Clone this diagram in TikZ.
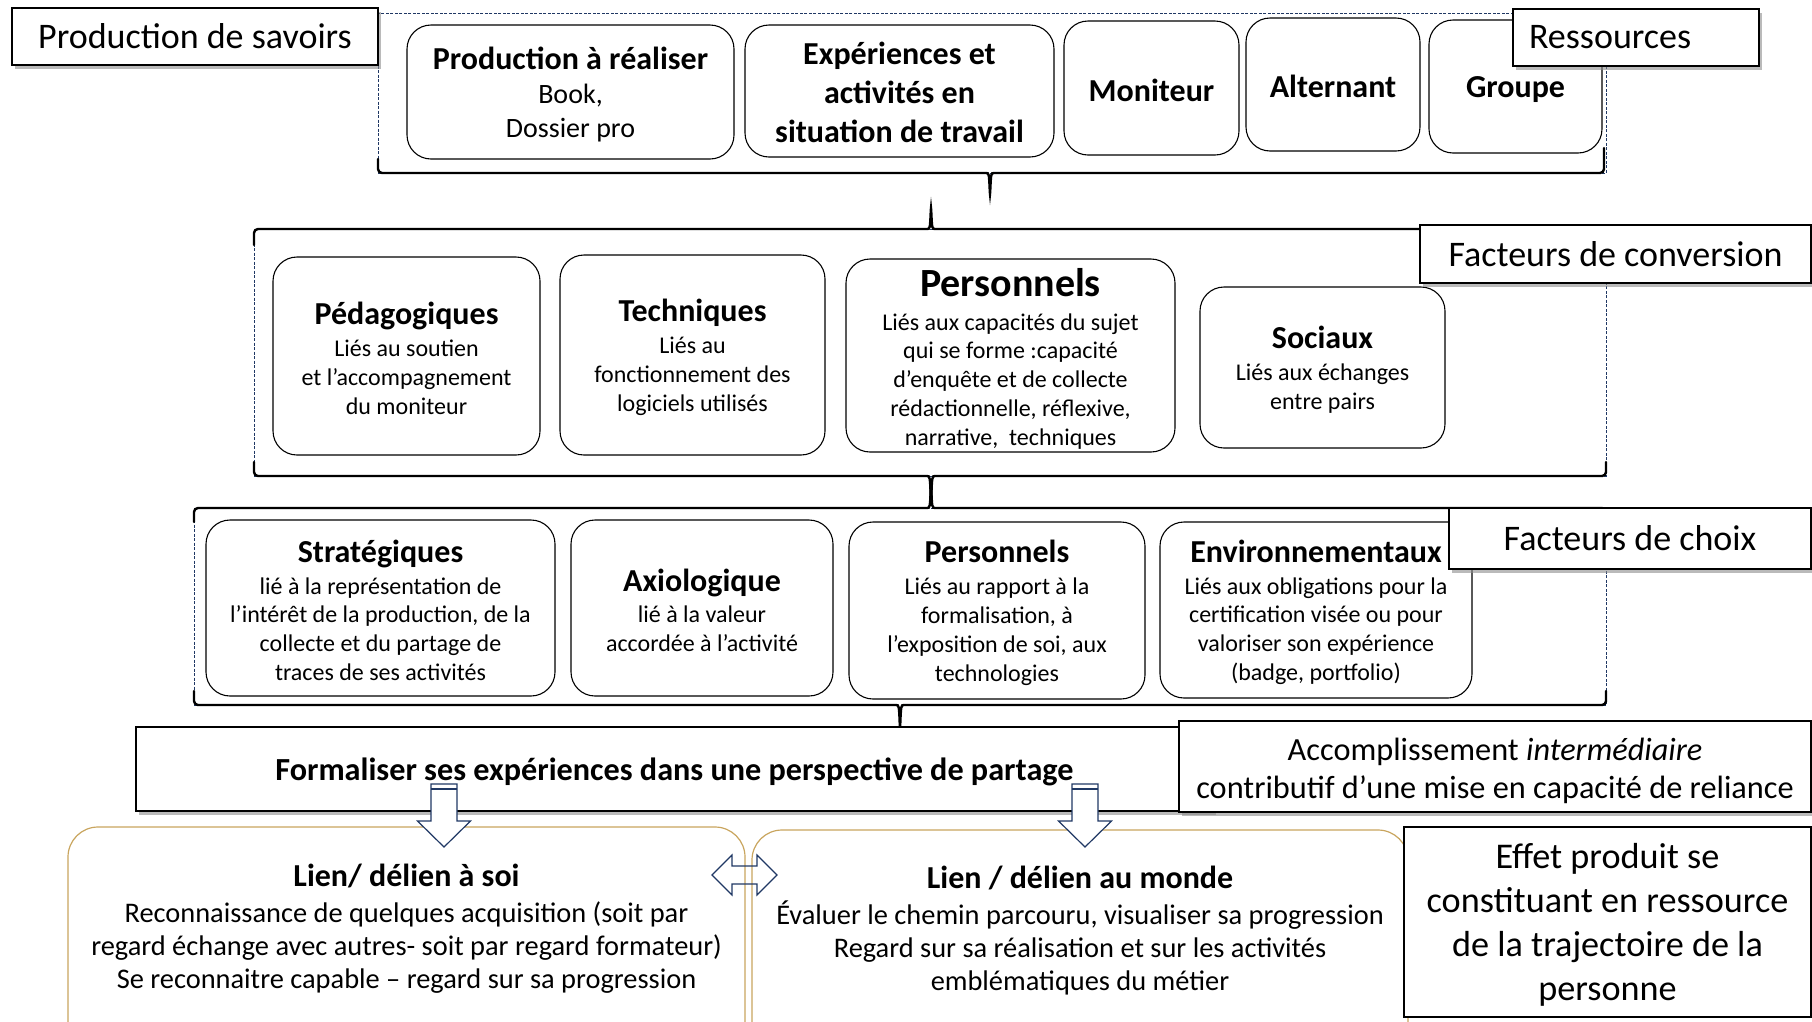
\documentclass[tikz,border=0pt]{standalone}
\usepackage{fontspec}
\setmainfont{Carlito}
\usetikzlibrary{calc,shadows}
\definecolor{navy}{HTML}{203864}
\definecolor{gold}{HTML}{C9A55E}
\newcommand{\titre}[1]{{\fontsize{32}{38}\selectfont\bfseries\rule{0pt}{27pt}#1}}

\begin{document}
\begin{tikzpicture}[x=1pt,y=-1pt,
rbox/.style={draw,line width=1.1pt,rounded corners=24pt,fill=white,align=center,inner sep=0pt,font=\fontsize{24}{28.8}\selectfont},
lbl/.style={draw,line width=1.1pt,fill=white,align=center,inner sep=0pt,font=\fontsize{36}{43}\selectfont,
  drop shadow={shadow xshift=3pt,shadow yshift=-4pt,fill=black!45,opacity=.6}},
frame/.style={draw=navy,line width=.7pt,dash pattern=on 3pt off 1.5pt,inner sep=0pt},
brace/.style={line width=2.4pt,line cap=round,rounded corners=4pt},
gbox/.style={draw=gold,line width=1.2pt,rounded corners=30pt,fill=white,inner sep=0pt},
barrow/.style={draw=navy,line width=1.2pt,line join=miter},
bdown/.pic={\draw[barrow,fill=white] (-13,0) -- (13,0) -- (13,37) -- (26.5,37) -- (0,63) -- (-26.5,37) -- (-13,37) -- cycle;
  \draw[barrow] (-13,5) -- (13,5);},
bboth/.pic={\draw[barrow] (-32.5,0) -- (-12.5,-20) -- (-12.5,-9) -- (12.5,-9) -- (12.5,-20) -- (32.5,0)
  -- (12.5,20) -- (12.5,9) -- (-12.5,9) -- (-12.5,20) -- cycle;}]
\useasboundingbox (0,0) rectangle (1812,1021);

% cadres
\node[frame,minimum width=1228,minimum height=160] (fres) at (992,93) {};
\node[frame,minimum width=1352,minimum height=247] (fconvf) at (930,352.5) {};
\node[frame,minimum width=1412,minimum height=197] (fchoixf) at (900,606.5) {};

% ressources
\node[rbox,minimum width=327,minimum height=134,font=\fontsize{28}{33.5}\selectfont] (prod) at (570.5,92)
  {\titre{Production à réaliser}\\[1pt]Book,\\Dossier pro};
\node[rbox,minimum width=309,minimum height=132,font=\fontsize{32}{38.7}\selectfont\bfseries] (exper) at (899.5,91)
  {\rule{0pt}{25pt}Expériences et\\activités en\\situation de travail};
\node[rbox,minimum width=175,minimum height=134,font=\fontsize{32}{38}\selectfont\bfseries] (monit) at (1151.5,88) {\rule{0pt}{27pt}Moniteur};
\node[rbox,minimum width=174,minimum height=133,font=\fontsize{32}{38}\selectfont\bfseries] (altern) at (1333,84.5) {\rule{0pt}{27pt}Alternant};
\node[rbox,minimum width=173,minimum height=133,font=\fontsize{32}{38}\selectfont\bfseries] (groupe) at (1515.5,86.5) {\rule{0pt}{27pt}Groupe};

% facteurs de conversion
\node[rbox,minimum width=267,minimum height=198] (peda) at (406.5,356)
  {\titre{Pédagogiques}\\[3pt]Liés au soutien\\et l’accompagnement\\du moniteur};
\node[rbox,minimum width=265,minimum height=200] (techn) at (692.5,355)
  {\titre{Techniques}\\[3pt]Liés au\\fonctionnement des\\logiciels utilisés};
\node[rbox,minimum width=329,minimum height=193] (perso) at (1010.5,355.5)
  {{\fontsize{40}{46}\selectfont\bfseries\rule{0pt}{35pt}Personnels}\\[4.5pt]Liés aux capacités du sujet\\qui se forme :capacité\\d’enquête et de collecte\\rédactionnelle, réflexive,\\narrative, \ techniques};
\node[rbox,minimum width=245,minimum height=161] (socia) at (1322.5,367.5)
  {\titre{Sociaux}\\[3pt]Liés aux échanges\\entre pairs};

% facteurs de choix
\node[rbox,minimum width=349,minimum height=176] (strat) at (380.5,608)
  {\titre{Stratégiques}\\[3pt]lié à la représentation de\\l’intérêt de la production, de la\\collecte et du partage de\\traces de ses activités};
\node[rbox,minimum width=262,minimum height=176] (axio) at (702,608)
  {\titre{Axiologique}\\[3pt]lié à la valeur\\accordée à l’activité};
\node[rbox,minimum width=296,minimum height=177] (persb) at (997,610.5)
  {\titre{Personnels}\\[3pt]Liés au rapport à la\\formalisation, à\\l’exposition de soi, aux\\technologies};
\node[rbox,minimum width=312,minimum height=176] (envir) at (1316,610)
  {\titre{Environnementaux}\\[3pt]Liés aux obligations pour la\\certification visée ou pour\\valoriser son expérience\\(badge, portfolio)};

% accolades
\draw[brace] (378,159) -- (378,173) -- (982,173) .. controls (989,173) .. (990,196) .. controls (991,173) .. (998,173) -- (1604,173) -- (1604,148);
\draw[brace] (254,245) -- (254,229) -- (923,229) .. controls (930,229) .. (931,206) .. controls (932,229) .. (939,229) -- (1606,229) -- (1606,245);
\draw[brace] (254,462) -- (254,476) -- (923,476) .. controls (930,476) .. (931,505) .. controls (932,476) .. (939,476) -- (1606,476) -- (1606,462);
\draw[brace] (194,522) -- (194,508) -- (923,508) .. controls (930,508) .. (931,482) .. controls (932,508) .. (939,508) -- (1606,508) -- (1606,522);
\draw[brace] (194,691) -- (194,705) -- (892,705) .. controls (899,705) .. (900,730) .. controls (901,705) .. (908,705) -- (1606,705) -- (1606,691);

% effets
\node[gbox,minimum width=677,minimum height=246] (soi) at (406.5,950) {};
\node[align=center,font=\fontsize{28.4}{33}\selectfont] (soitxt) at (406.5,926)
  {\titre{Lien/ délien à soi}\\[3pt]Reconnaissance de quelques acquisition (soit par\\regard échange avec autres- soit par regard formateur)\\Se reconnaitre capable – regard sur sa progression};
\node[gbox,minimum width=656,minimum height=240] (monde) at (1080,950) {};
\node[align=center,font=\fontsize{28.4}{33}\selectfont] (mondetxt) at (1080,928.5)
  {\titre{Lien / délien au monde}\\[3pt]Évaluer le chemin parcouru, visualiser sa progression\\Regard sur sa réalisation et sur les activités\\emblématiques du métier};
\node[draw,line width=1.1pt,fill=white,minimum width=407,minimum height=190,align=center,font=\fontsize{36.2}{44}\selectfont] (effet) at (1607.5,922)
  {\rule{0pt}{31pt}Effet produit se\\constituant en ressource\\de la trajectoire de la\\personne};

\node[lbl,minimum width=1077,minimum height=84,font=\fontsize{32.2}{38}\selectfont\bfseries] (formal) at (674.5,769)
  {\rule{0pt}{29pt}Formaliser ses expériences dans une perspective de partage};
\node[lbl,minimum width=632,minimum height=91,font=\fontsize{32.3}{38}\selectfont] (accomp) at (1495,766.5)
  {\rule{0pt}{31pt}Accomplissement \textit{intermédiaire}\\contributif d’une mise en capacité de reliance};

\pic at (444,784) {bdown};
\pic at (1085,784) {bdown};
\pic at (744.5,875) {bboth};

% etiquettes
\node[lbl,minimum width=366,minimum height=57] (psav) at (195,36.5) {Production de savoirs};
\node[lbl,minimum width=246,minimum height=57,text width=214,align=left] (ress) at (1636,37.5) {Ressources};
\node[lbl,minimum width=391,minimum height=58] (fconv) at (1615.5,254) {Facteurs de conversion};
\node[lbl,minimum width=362,minimum height=61] (fchoix) at (1630,538.5) {Facteurs de choix};
\end{tikzpicture}
\end{document}
